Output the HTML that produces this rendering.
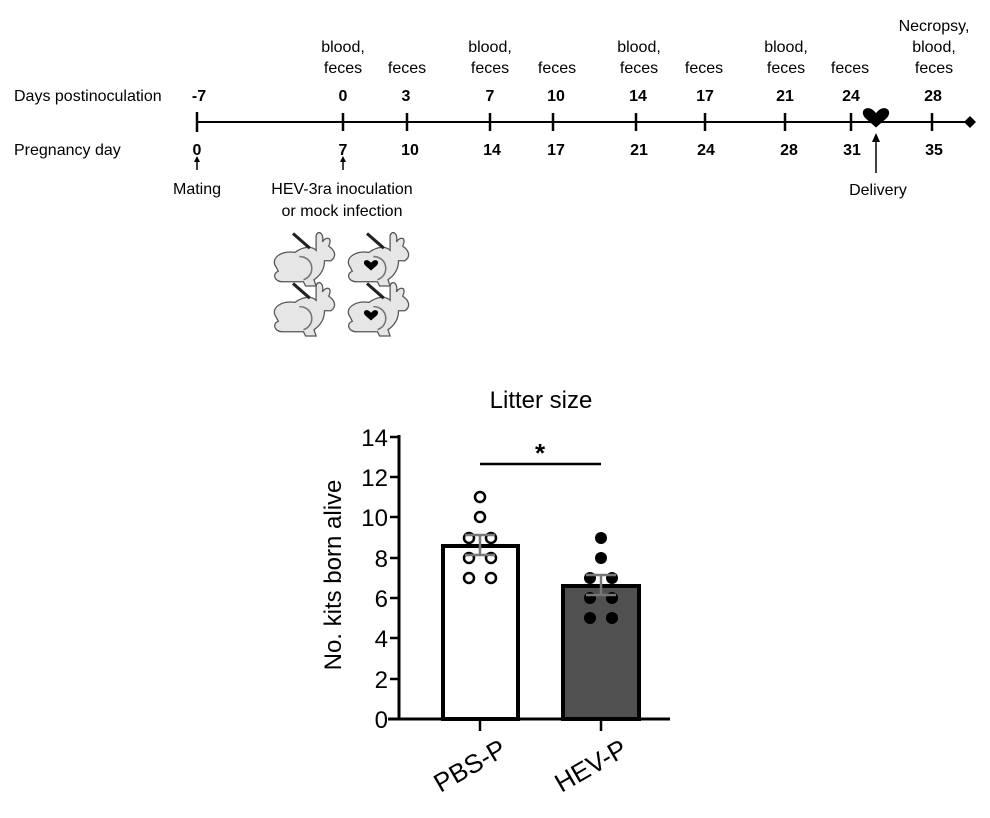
<!DOCTYPE html>
<html><head><meta charset="utf-8"><style>
html,body{margin:0;padding:0;background:#fff;}
svg{display:block;font-family:"Liberation Sans",Arial,sans-serif;}
</style></head><body>
<svg width="990" height="818" viewBox="0 0 990 818" xmlns="http://www.w3.org/2000/svg">
<defs>
<g id="rab">
  <path d="M4,22 C-2,14 8,6 22,8 C30,2 38,2 42,6 L42,-8 C44,-14 50,-10 48,-2 C52,-8 58,-6 54,2 C60,6 62,12 56,16 L50,16 C50,24 46,30 40,34 L42,40 L32,40 L30,36 L10,36 C2,36 0,28 6,26 Z" fill="#e6e6e6" stroke="#555" stroke-width="1.2"/>
  <path d="M26,12 C40,12 42,30 30,34" fill="none" stroke="#777" stroke-width="1.5"/>
  <path d="M20,-10 L36,4" stroke="#222" stroke-width="3"/>
</g>
<path id="hrt" d="M0,4 C-6,-4 -14,2 -8,8 L0,15 L8,8 C14,2 6,-4 0,4 Z"/>
</defs>

<g font-size="16" fill="#000">
<text x="14" y="101">Days postinoculation</text>
<text x="14" y="155">Pregnancy day</text>
</g>
<line x1="197" y1="122" x2="966" y2="122" stroke="#000" stroke-width="2"/>
<polygon points="970,116 976,122 970,128 964,122" fill="#000"/>
<g stroke="#000" stroke-width="2.5">
<line x1="197" y1="112" x2="197" y2="132"/>
<line x1="343" y1="113" x2="343" y2="131"/>
<line x1="407" y1="113" x2="407" y2="131"/>
<line x1="490" y1="113" x2="490" y2="131"/>
<line x1="553" y1="113" x2="553" y2="131"/>
<line x1="636" y1="113" x2="636" y2="131"/>
<line x1="705" y1="113" x2="705" y2="131"/>
<line x1="785" y1="113" x2="785" y2="131"/>
<line x1="851" y1="113" x2="851" y2="131"/>
<line x1="932" y1="113" x2="932" y2="131"/>
</g>
<g font-size="16" font-weight="bold" text-anchor="middle">
<text x="199" y="101">-7</text><text x="343" y="101">0</text><text x="406" y="101">3</text>
<text x="490" y="101">7</text><text x="556" y="101">10</text><text x="638" y="101">14</text>
<text x="705" y="101">17</text><text x="785" y="101">21</text><text x="851" y="101">24</text>
<text x="933" y="101">28</text>
<text x="197" y="155">0</text><text x="343" y="155">7</text><text x="410" y="155">10</text>
<text x="492" y="155">14</text><text x="556" y="155">17</text><text x="639" y="155">21</text>
<text x="706" y="155">24</text><text x="789" y="155">28</text><text x="852" y="155">31</text>
<text x="934" y="155">35</text>
</g>
<g font-size="16" text-anchor="middle">
<text x="343" y="52">blood,</text><text x="343" y="73">feces</text>
<text x="407" y="73">feces</text>
<text x="490" y="52">blood,</text><text x="490" y="73">feces</text>
<text x="557" y="73">feces</text>
<text x="639" y="52">blood,</text><text x="639" y="73">feces</text>
<text x="704" y="73">feces</text>
<text x="786" y="52">blood,</text><text x="786" y="73">feces</text>
<text x="850" y="73">feces</text>
<text x="934" y="31">Necropsy,</text><text x="934" y="52">blood,</text><text x="934" y="73">feces</text>
<text x="197" y="194">Mating</text>
<text x="342" y="194">HEV-3ra inoculation</text>
<text x="342" y="216">or mock infection</text>
<text x="878" y="195">Delivery</text>
</g>
<g stroke="#000" stroke-width="1.5">
<line x1="197" y1="159" x2="197" y2="170"/><line x1="343" y1="159" x2="343" y2="170"/>
<line x1="876" y1="140" x2="876" y2="173"/>
</g>
<polygon points="197,156 194,162 200,162" fill="#000"/>
<polygon points="343,156 340,162 346,162" fill="#000"/>
<polygon points="876,133 872,142 880,142" fill="#000"/>
<use href="#hrt" transform="translate(876,108) scale(1.3)" fill="#000"/>

<use href="#rab" transform="translate(272,244) scale(1.05)"/>
<use href="#rab" transform="translate(346,244) scale(1.05)"/>
<use href="#rab" transform="translate(272,294) scale(1.05)"/>
<use href="#rab" transform="translate(346,294) scale(1.05)"/>
<use href="#hrt" transform="translate(371,260) scale(0.7)" fill="#000"/>
<use href="#hrt" transform="translate(371,310) scale(0.7)" fill="#000"/>

<text x="541" y="408" font-size="24" text-anchor="middle">Litter size</text>
<line x1="399" y1="435" x2="399" y2="720" stroke="#000" stroke-width="3"/>
<line x1="388" y1="719" x2="670" y2="719" stroke="#000" stroke-width="3"/>
<g stroke="#000" stroke-width="2.5">
<line x1="390" y1="437" x2="399" y2="437"/><line x1="390" y1="477" x2="399" y2="477"/>
<line x1="390" y1="517" x2="399" y2="517"/><line x1="390" y1="558" x2="399" y2="558"/>
<line x1="390" y1="598" x2="399" y2="598"/><line x1="390" y1="638" x2="399" y2="638"/>
<line x1="390" y1="679" x2="399" y2="679"/>
<line x1="480" y1="719" x2="480" y2="731"/><line x1="601" y1="719" x2="601" y2="731"/>
</g>
<g font-size="24" text-anchor="end">
<text x="388" y="446">14</text><text x="388" y="486">12</text><text x="388" y="526">10</text>
<text x="388" y="567">8</text><text x="388" y="607">6</text><text x="388" y="647">4</text>
<text x="388" y="688">2</text><text x="388" y="728">0</text>
</g>
<text transform="translate(341,575) rotate(-90)" font-size="24" text-anchor="middle">No. kits born alive</text>
<rect x="443" y="546" width="75" height="173" fill="#fff" stroke="#000" stroke-width="4"/>
<rect x="563" y="586" width="76" height="133" fill="#505050" stroke="#000" stroke-width="4"/>
<line x1="480" y1="464" x2="601" y2="464" stroke="#000" stroke-width="2.5"/>
<text x="540" y="462" font-size="26" font-weight="bold" text-anchor="middle">*</text>
<g fill="none" stroke="#000" stroke-width="2.5">
<circle cx="480" cy="497" r="5"/><circle cx="480" cy="517" r="5"/>
<circle cx="469" cy="538" r="5"/><circle cx="491" cy="538" r="5"/>
<circle cx="469" cy="558" r="5"/><circle cx="491" cy="558" r="5"/>
<circle cx="469" cy="578" r="5"/><circle cx="491" cy="578" r="5"/>
</g>
<g fill="#000">
<circle cx="601" cy="538" r="6"/><circle cx="601" cy="558" r="6"/>
<circle cx="590" cy="578" r="6"/><circle cx="612" cy="578" r="6"/>
<circle cx="590" cy="598" r="6"/><circle cx="612" cy="598" r="6"/>
<circle cx="590" cy="618" r="6"/><circle cx="612" cy="618" r="6"/>
</g>
<g stroke="#777" stroke-width="2.5">
<line x1="480" y1="535" x2="480" y2="555"/><line x1="465" y1="535" x2="495" y2="535"/><line x1="465" y1="555" x2="495" y2="555"/>
<line x1="601" y1="575" x2="601" y2="595"/><line x1="586" y1="575" x2="616" y2="575"/><line x1="586" y1="595" x2="616" y2="595"/>
</g>
<g font-size="26" text-anchor="end">
<text transform="translate(508,754) rotate(-30)">PBS-P</text>
<text transform="translate(629,754) rotate(-30)">HEV-P</text>
</g>
</svg>
</body></html>
